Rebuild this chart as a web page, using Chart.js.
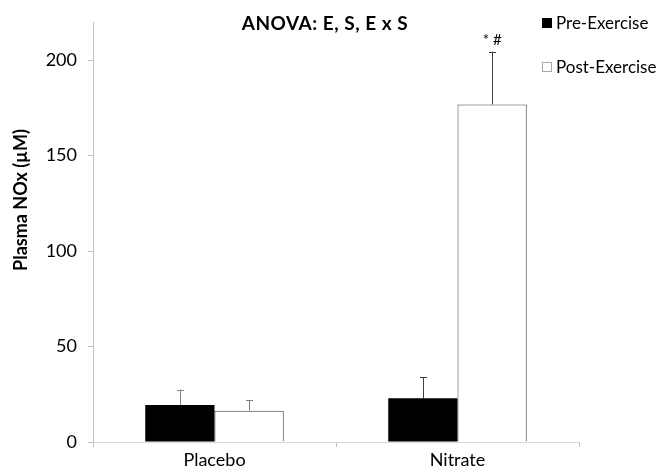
<!DOCTYPE html>
<html>
<head>
<meta charset="utf-8">
<script src="https://cdn.jsdelivr.net/npm/chart.js@4"></script>
<style>
  html, body { margin: 0; padding: 0; background: #fff; }
  #wrap { width: 656px; height: 472px; }
</style>
</head>
<body>
<div id="wrap"><canvas id="chart"></canvas></div>
<script>
const groups = ["Placebo", "Nitrate"];
const preValues = [19.4, 22.9];
const preErrors = [8.0, 11.0];
const postValues = [16.4, 176.8];
const postErrors = [5.7, 27.7];
const postMarks = ["", "* #"];
const titleText = "ANOVA: E, S, E x S";
const yTitle = "Plasma NOx (µM)";
const FONT = "Lato, 'Open Sans', sans-serif";

// whiskers above each bar, plus the significance marks
const errorBars = {
    id: "errorBars",
    afterDatasetsDraw(chart) {
        const ctx = chart.ctx;
        const y = chart.scales.y;
        chart.data.datasets.forEach((ds, i) => {
            const meta = chart.getDatasetMeta(i);
            meta.data.forEach((bar, j) => {
                const top = y.getPixelForValue(ds.data[j] + ds.errors[j]);
                ctx.save();
                ctx.strokeStyle = j === 0 ? "#7f7f7f" : "#404040";
                ctx.lineWidth = 1;
                ctx.beginPath();
                ctx.moveTo(Math.round(bar.x) + 0.5, bar.y);
                ctx.lineTo(Math.round(bar.x) + 0.5, top);
                ctx.moveTo(Math.round(bar.x) - 3, Math.round(top) + 0.5);
                ctx.lineTo(Math.round(bar.x) + 4, Math.round(top) + 0.5);
                ctx.stroke();
                if (ds.marks && ds.marks[j]) {
                    ctx.fillStyle = "#000";
                    ctx.font = "15px " + FONT;
                    ctx.textAlign = "center";
                    ctx.textBaseline = "alphabetic";
                    ctx.fillText(ds.marks[j], bar.x, top - 7);
                }
                ctx.restore();
            });
        });
    }
};

// title, legend and y title drawn by hand so they can sit where the original has them
const textBits = {
    id: "textBits",
    afterDraw(chart) {
        const ctx = chart.ctx;
        ctx.save();
        ctx.fillStyle = "#000";
        ctx.textBaseline = "middle";

        ctx.font = "bold 19px " + FONT;
        ctx.letterSpacing = "0.5px";
        ctx.textAlign = "center";
        ctx.fillText(titleText, 325, 24);
        ctx.letterSpacing = "0px";

        ctx.save();
        ctx.translate(21, 200);
        ctx.rotate(-Math.PI / 2);
        ctx.font = "bold 18px " + FONT;
        ctx.fillText(yTitle, 0, 0);
        ctx.restore();

        ctx.font = "17px " + FONT;
        ctx.textAlign = "left";
        const legendY = [24, 68];
        chart.data.datasets.forEach((ds, i) => {
            const ly = legendY[i];
            ctx.fillStyle = ds.backgroundColor;
            ctx.fillRect(542, ly - 6, 10, 10);
            if (i === 1) {
                ctx.strokeStyle = "#a6a6a6";
                ctx.lineWidth = 1;
                ctx.strokeRect(542.5, ly - 5.5, 9, 9);
            }
            ctx.fillStyle = "#000";
            ctx.fillText(ds.label, 556, ly);
        });
        ctx.restore();
    }
};

new Chart(document.getElementById("chart"), {
    type: "bar",
    data: {
        labels: groups,
        datasets: [
            {
                label: "Pre-Exercise",
                data: preValues,
                errors: preErrors,
                backgroundColor: "#000000",
                borderColor: "#000000",
                borderWidth: 0
            },
            {
                label: "Post-Exercise",
                data: postValues,
                errors: postErrors,
                marks: postMarks,
                backgroundColor: "#ffffff",
                borderColor: "#404040",
                borderWidth: 1
            }
        ]
    },
    options: {
        responsive: true,
        maintainAspectRatio: false,
        animation: false,
        layout: { padding: { top: 22, right: 77, left: 0, bottom: 0 } },
        datasets: { bar: { categoryPercentage: 0.57, barPercentage: 1.0 } },
        plugins: {
            legend: { display: false },
            tooltip: { enabled: false }
        },
        scales: {
            x: {
                grid: { display: true, drawOnChartArea: false, offset: true, color: "#bfbfbf", tickLength: 5 },
                border: { color: "#d9d9d9" },
                ticks: { color: "#000", font: { family: FONT, size: 18 }, padding: 2 },
                afterFit: (s) => { s.height = 30; }
            },
            y: {
                min: 0,
                max: 220,
                grid: { display: true, drawOnChartArea: false, color: "#bfbfbf", tickLength: 5 },
                border: { color: "#bfbfbf" },
                ticks: {
                    stepSize: 50,
                    color: "#000",
                    font: { family: FONT, size: 18 },
                    padding: 11,
                    callback: (v) => (v % 50 === 0 ? v : null)
                },
                afterFit: (s) => { s.width = 93; }
            }
        }
    },
    plugins: [errorBars, textBits]
});
</script>
</body>
</html>
